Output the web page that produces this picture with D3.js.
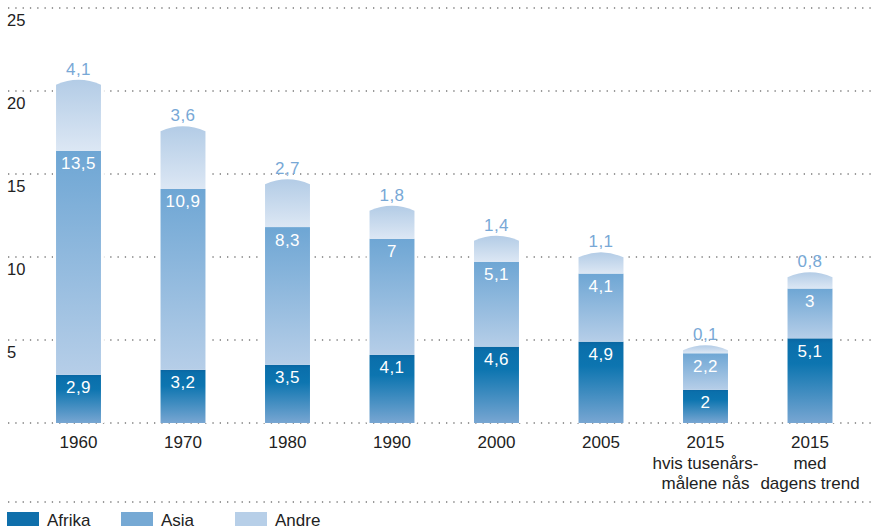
<!DOCTYPE html>
<html>
<head>
<meta charset="utf-8">
<script src="https://cdn.jsdelivr.net/npm/d3@7"></script>
<style>
	body { margin: 0; background: #fff; }
	text { font-family: "Liberation Sans", Arial, sans-serif; }
</style>
</head>
<body>
<div id="vis"></div>
<script>

var categories = ["1960", "1970", "1980", "1990", "2000", "2005", "2015a", "2015b"];
var catLabels = [["1960"], ["1970"], ["1980"], ["1990"], ["2000"], ["2005"],
	["2015", "hvis tusenårs-", "målene nås"], ["2015", "med", "dagens trend"]];
var afrika = [2.9, 3.2, 3.5, 4.1, 4.6, 4.9, 2, 5.1];
var asia = [13.5, 10.9, 8.3, 7, 5.1, 4.1, 2.2, 3];
var andre = [4.1, 3.6, 2.7, 1.8, 1.4, 1.1, 0.1, 0.8];
var yTicks = [0, 5, 10, 15, 20, 25];
var seriesNames = ["Afrika", "Asia", "Andre"];

var w = 873, h = 526;

var svg = d3.select("#vis").append("svg")
	.attr("width", w)
	.attr("height", h);

var defs = svg.append("defs");

function addGradient (id, stops) {
	var g = defs.append("linearGradient")
		.attr("id", id)
		.attr("x1", 0).attr("y1", 0)
		.attr("x2", 0).attr("y2", 1);
	stops.forEach(function (s) {
		g.append("stop").attr("offset", s[0]).attr("stop-color", s[1]);
	});
}

addGradient("g-afrika", [[0, "#0a66a2"], [0.06, "#0a6fab"], [0.3, "#0d75b0"], [1, "#78a6d2"]]);
addGradient("g-asia", [[0, "#6ea6d4"], [1, "#b6cee8"]]);
addGradient("g-andre", [[0, "#b3cce6"], [1, "#dce7f4"]]);

var x = d3.scaleBand()
	.domain(categories)
	.range([26.25, 862.25])
	.paddingInner(0.57)
	.paddingOuter(0.285);

var y = d3.scaleLinear()
	.domain([0, 25])
	.range([423, 8]);

function fmt (v) {
	return String(v).replace(".", ",");
}

// gridlines
svg.selectAll(".grid")
	.data(yTicks)
	.enter()
	.append("line")
	.attr("class", "grid")
	.attr("x1", 8)
	.attr("x2", w)
	.attr("y1", function (d) { return y(d); })
	.attr("y2", function (d) { return y(d); })
	.attr("stroke", "#7a7a7a")
	.attr("stroke-width", 1.3)
	.attr("stroke-dasharray", "1.3,6");

svg.selectAll(".ytick")
	.data(yTicks.filter(function (d) { return d > 0; }))
	.enter()
	.append("text")
	.attr("class", "ytick")
	.attr("x", 7)
	.attr("y", function (d) { return y(d) + 18; })
	.attr("font-size", 16.5)
	.attr("fill", "#222")
	.text(function (d) { return d; });

// bars
var bw = x.bandwidth();
var bars = svg.selectAll(".bar")
	.data(categories)
	.enter()
	.append("g")
	.attr("class", "bar")
	.attr("transform", function (d) { return "translate(" + x(d) + ",0)"; });

bars.append("rect")
	.attr("x", -3)
	.attr("width", bw + 6)
	.attr("y", function (d, i) { return y(afrika[i] + asia[i] + andre[i]) - 6; })
	.attr("height", function (d, i) { return y(0) - y(afrika[i] + asia[i] + andre[i]) + 6; })
	.attr("fill", "#fff");

bars.append("rect")
	.attr("y", function (d, i) { return y(afrika[i]); })
	.attr("width", bw)
	.attr("height", function (d, i) { return y(0) - y(afrika[i]); })
	.attr("fill", "url(#g-afrika)");

bars.append("rect")
	.attr("y", function (d, i) { return y(afrika[i] + asia[i]); })
	.attr("width", bw)
	.attr("height", function (d, i) { return y(afrika[i]) - y(afrika[i] + asia[i]); })
	.attr("fill", "url(#g-asia)");

function capSide (i) {
	var top = y(afrika[i] + asia[i] + andre[i]);
	return Math.min(top + 2, y(afrika[i] + asia[i]) - 3);
}

bars.append("path")
	.attr("d", function (d, i) {
		var bottom = y(afrika[i] + asia[i]);
		var side = capSide(i);
		return "M0," + bottom + "L0," + side +
			"Q" + (bw / 2) + "," + (side - 10) + " " + bw + "," + side +
			"L" + bw + "," + bottom + "Z";
	})
	.attr("fill", "url(#g-andre)");

// value labels
bars.append("text")
	.attr("x", bw / 2)
	.attr("y", function (d, i) { return y(afrika[i]) + 18.5; })
	.attr("text-anchor", "middle")
	.attr("font-size", 17)
	.attr("letter-spacing", 0.5)
	.attr("fill", "#fff")
	.text(function (d, i) { return fmt(afrika[i]); });

bars.append("text")
	.attr("x", bw / 2)
	.attr("y", function (d, i) { return y(afrika[i] + asia[i]) + 18.5; })
	.attr("text-anchor", "middle")
	.attr("font-size", 17)
	.attr("letter-spacing", 0.5)
	.attr("fill", "#fff")
	.text(function (d, i) { return fmt(asia[i]); });

bars.append("text")
	.attr("x", bw / 2)
	.attr("y", function (d, i) { return capSide(i) - 10; })
	.attr("text-anchor", "middle")
	.attr("font-size", 17)
	.attr("letter-spacing", 0.5)
	.attr("fill", "#78a8d6")
	.text(function (d, i) { return fmt(andre[i]); });

// category labels
bars.each(function (d, i) {
	var t = d3.select(this).append("text")
		.attr("text-anchor", "middle")
		.attr("font-size", 17)
		.attr("fill", "#222");
	catLabels[i].forEach(function (line, j) {
		t.append("tspan")
			.attr("x", bw / 2)
			.attr("y", 448 + j * 20.5)
			.text(line);
	});
});

// separator + legend
svg.append("line")
	.attr("x1", 8)
	.attr("x2", w)
	.attr("y1", 502)
	.attr("y2", 502)
	.attr("stroke", "#7a7a7a")
	.attr("stroke-width", 1.3)
	.attr("stroke-dasharray", "1.3,6");

var legendColors = ["#0f6fab", "#76a9d4", "#b7cfe8"];
var legendX = [7, 121, 235];

var legend = svg.selectAll(".legend")
	.data(seriesNames)
	.enter()
	.append("g")
	.attr("class", "legend")
	.attr("transform", function (d, i) { return "translate(" + legendX[i] + ",512)"; });

legend.append("rect")
	.attr("width", 32)
	.attr("height", 16)
	.attr("fill", function (d, i) { return legendColors[i]; });

legend.append("text")
	.attr("x", 40)
	.attr("y", 13.5)
	.attr("font-size", 17)
	.attr("fill", "#222")
	.text(function (d) { return d; });

</script>
</body>
</html>
